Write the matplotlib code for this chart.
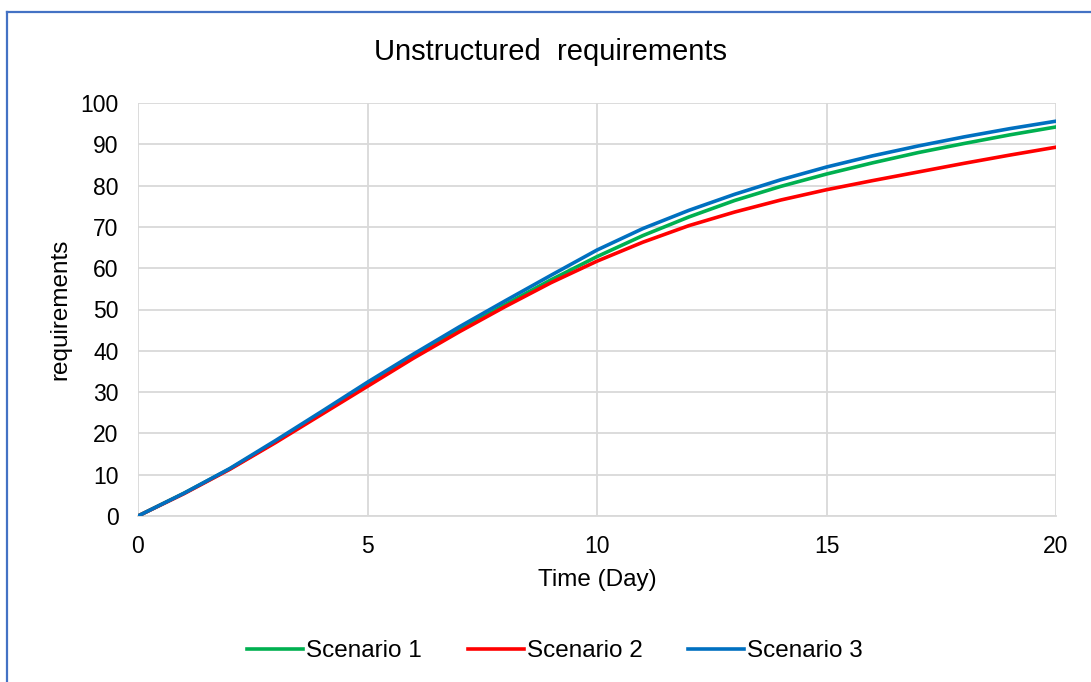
import matplotlib
matplotlib.use("Agg")
import matplotlib.pyplot as plt
from matplotlib.lines import Line2D

plt.rcParams['font.family'] = ['Liberation Sans', 'DejaVu Sans']

days = list(range(0, 21))
scenario_1 = [0, 5.5, 11.4, 18.0, 25.0, 31.9, 38.6, 45.0, 51.2, 57.2, 62.8,
              67.9, 72.4, 76.4, 79.8, 82.8, 85.5, 88.0, 90.2, 92.3, 94.2]
scenario_2 = [0, 5.4, 11.3, 17.8, 24.6, 31.4, 38.2, 44.6, 50.7, 56.5, 61.7,
              66.3, 70.3, 73.6, 76.5, 79.0, 81.2, 83.3, 85.4, 87.4, 89.3]
scenario_3 = [0, 5.5, 11.5, 18.3, 25.3, 32.4, 39.2, 45.8, 52.1, 58.3, 64.4,
              69.6, 74.0, 77.9, 81.4, 84.5, 87.2, 89.6, 91.8, 93.8, 95.6]
series_names = ["Scenario 1", "Scenario 2", "Scenario 3"]
colors = ["#00B050", "#FF0000", "#0070C0"]
x_ticks = [0, 5, 10, 15, 20]
y_ticks = list(range(0, 101, 10))

W, H = 1091, 682
fig = plt.figure(figsize=(W / 100, H / 100), dpi=100)
ax = fig.add_axes([138 / W, 1 - 516 / H, (1056 - 138) / W, (516 - 103) / H])

for name, vals, c in zip(series_names, [scenario_1, scenario_2, scenario_3], colors):
    ax.plot(days, vals, color=c, lw=2.6, label=name, solid_capstyle='round',
            solid_joinstyle='round', zorder=3)

ax.set_xlim(0, 20)
ax.set_ylim(0, 100)
ax.set_xticks(x_ticks)
ax.set_yticks(y_ticks)
ax.grid(True, color="#D9D9D9", lw=1.3, zorder=0)
for s in ["top", "right", "left"]:
    ax.spines[s].set_visible(False)
ax.spines["bottom"].set_color("#D9D9D9")
ax.spines["bottom"].set_linewidth(1.3)
ax.tick_params(axis='both', length=0, labelsize=16.5, colors="black")
ax.tick_params(axis='y', pad=14)
ax.tick_params(axis='x', pad=14)

ax.set_xlabel("Time (Day)", fontsize=17.5)
ax.xaxis.set_label_coords((597 - 138) / 918, (516 - 569) / 413)
ax.set_ylabel("requirements", fontsize=17.5)
ax.yaxis.set_label_coords((71 - 138) / 918, 0.5)

fig.text(551 / W, 1 - 52 / H, "Unstructured  requirements", fontsize=21,
         ha='center', va='center')

handles = [Line2D([0], [0], color=c, lw=2.6) for c in colors]
fig.legend(handles, series_names, loc='center', bbox_to_anchor=(555 / W, 1 - 651 / H),
           ncol=3, frameon=False, fontsize=17.5, handlelength=2.3, handletextpad=0.12,
           columnspacing=1.9)

# chart border (blue)
fig.add_artist(Line2D([6.5 / W, 6.5 / W], [0, 1 - 12 / H], color="#4472C4", lw=1.6,
                      transform=fig.transFigure))
fig.add_artist(Line2D([6.5 / W, 1], [1 - 12 / H, 1 - 12 / H], color="#4472C4", lw=1.6,
                      transform=fig.transFigure))

fig.savefig("out.png", dpi=100)
